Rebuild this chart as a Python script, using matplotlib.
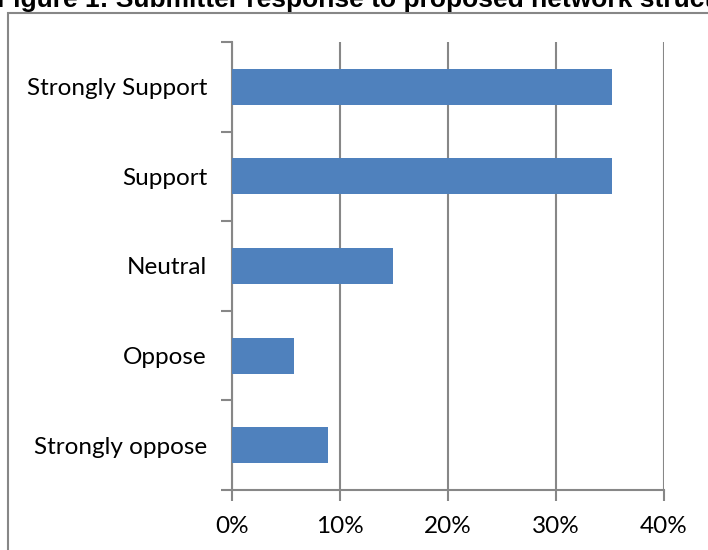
import matplotlib
matplotlib.use("Agg")
import matplotlib.pyplot as plt
from matplotlib.patches import Rectangle
from matplotlib.ticker import FuncFormatter

categories = ["Strongly Support", "Support", "Neutral", "Oppose", "Strongly oppose"]
shares = [35.2, 35.2, 14.9, 5.7, 8.9]
x_ticks = [0, 10, 20, 30, 40]

W, H = 708, 550
fig = plt.figure(figsize=(W / 100, H / 100), dpi=100)
fig.patch.set_facecolor("white")

grey = "#878787"
bar_color = "#4f81bd"

# outer chart border (runs off the right and bottom edge)
fig.patches.append(Rectangle((8 / W, -0.05), 1.0, 1 - 13 / H + 0.05,
                             transform=fig.transFigure, fill=False,
                             edgecolor=grey, lw=1.5))

fig.text(-3 / W, 1 - 7 / H, "Figure 1: Submitter response to proposed network structure",
         fontsize=19, fontweight="bold", family="Liberation Sans",
         ha="left", va="baseline")

ax = fig.add_axes([232 / W, 1 - 490 / H, (664 - 232) / W, (490 - 42) / H])
ypos = list(range(len(categories)))[::-1]
ax.barh(ypos, shares, height=0.4, color=bar_color, zorder=3)

ax.set_xlim(0, 40)
ax.set_ylim(-0.5, len(categories) - 0.5)
ax.set_xticks(x_ticks)
ax.xaxis.set_major_formatter(FuncFormatter(lambda v, p: f"{v:.0f}%"))
ax.set_yticks(ypos)
ax.set_yticklabels(categories)
ax.set_yticks([i - 0.5 for i in range(len(categories) + 1)], minor=True)

for s in ["top", "right"]:
    ax.spines[s].set_visible(False)
for s in ["left", "bottom"]:
    ax.spines[s].set_color(grey)
    ax.spines[s].set_linewidth(1.5)

ax.grid(axis="x", color=grey, lw=1.5, zorder=0)
ax.tick_params(axis="y", which="major", length=0, pad=18, labelsize=17.5)
ax.tick_params(axis="y", which="minor", length=8, width=1.5, color=grey)
ax.tick_params(axis="x", length=8, width=1.5, color=grey, pad=11, labelsize=17.5)
for lab in ax.get_xticklabels() + ax.get_yticklabels():
    lab.set_family("Lato")

fig.savefig("out.png", dpi=100)
